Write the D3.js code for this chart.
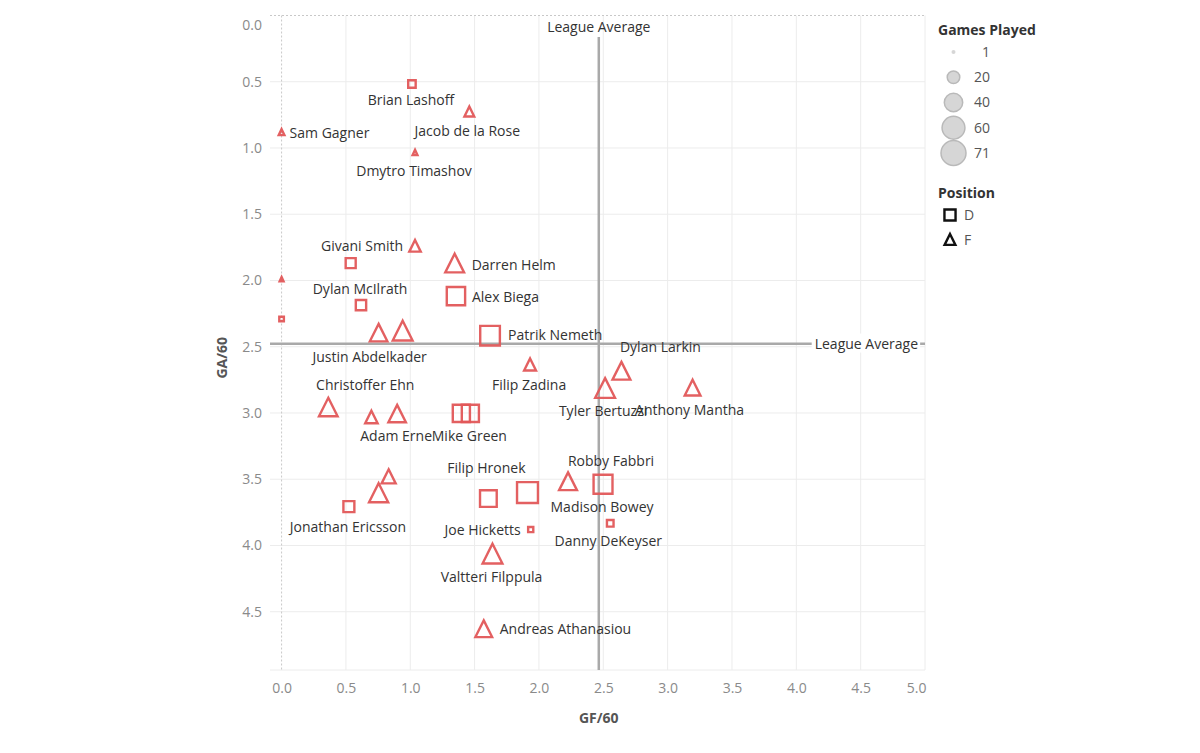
<!DOCTYPE html>
<html>
<head>
<meta charset="utf-8">
<script src="https://cdn.jsdelivr.net/npm/d3@7"></script>
<style>
  body { margin: 0; background: #fff; }
  svg text { font-family: "Open Sans", Lato, sans-serif; }
</style>
</head>
<body>
<svg id="chart" width="1200" height="753"></svg>
<script>
// ---------------- DATA ----------------
const players = [
  "Brian Lashoff", "Jacob de la Rose", "Sam Gagner", "Dmytro Timashov", "Givani Smith",
  "", "Darren Helm", "", "Dylan McIlrath", "Alex Biega",
  "", "Justin Abdelkader", "", "Patrik Nemeth", "Filip Zadina",
  "Dylan Larkin", "Tyler Bertuzzi", "Anthony Mantha", "Christoffer Ehn", "",
  "Adam Erne", "", "Mike Green", "Filip Hronek", "",
  "Robby Fabbri", "Madison Bowey", "Danny DeKeyser", "Joe Hicketts", "Jonathan Ericsson",
  "", "", "Valtteri Filppula", "Andreas Athanasiou"
];
const position = [
  "D", "F", "F", "F", "F",
  "D", "F", "F", "D", "D",
  "D", "F", "F", "D", "F",
  "F", "F", "F", "F", "F",
  "F", "D", "D", "D", "D",
  "F", "D", "D", "D", "D",
  "F", "F", "F", "F"
];
const gf60 = [
  1.013, 1.459, 0.0, 1.037, 1.037,
  0.537, 1.345, 0.0, 0.617, 1.355,
  0.0, 0.754, 0.941, 1.620, 1.931,
  2.641, 2.514, 3.194, 0.363, 0.698,
  0.898, 1.397, 1.467, 1.607, 1.911,
  2.226, 2.498, 2.554, 1.936, 0.523,
  0.832, 0.754, 1.639, 1.571
];
const ga60 = [
  0.517, 0.729, 0.885, 1.038, 1.743,
  1.869, 1.873, 1.995, 2.186, 2.118,
  2.291, 2.398, 2.383, 2.417, 2.639,
  2.686, 2.816, 2.813, 2.960, 3.035,
  3.009, 3.003, 3.003, 3.646, 3.601,
  3.520, 3.538, 3.833, 3.880, 3.707,
  3.483, 3.607, 4.066, 4.633
];
const gamesPlayed = [
  12, 24, 12, 10, 30,
  19, 65, 8, 20, 53,
  6, 58, 71, 60, 32,
  60, 71, 49, 64, 34,
  58, 47, 47, 45, 67,
  60, 56, 10, 7, 22,
  41, 67, 71, 54
];
const xTicks = [0, 0.5, 1, 1.5, 2, 2.5, 3, 3.5, 4, 4.5, 5];
const yTicks = [0, 0.5, 1, 1.5, 2, 2.5, 3, 3.5, 4, 4.5];
const leagueAvgGF = 2.465;
const leagueAvgGA = 2.477;
const legendGames = [1, 20, 40, 60, 71];
const legendPositions = ["D", "F"];

// label placement (layout config): anchor, dx, dy relative to mark centre
const labelPlacement = {
  "Brian Lashoff": ["middle", -1, 16],
  "Jacob de la Rose": ["middle", -2, 19],
  "Sam Gagner": ["start", 8, 0],
  "Dmytro Timashov": ["middle", -1, 18],
  "Givani Smith": ["end", -12, 0],
  "Darren Helm": ["start", 17, 1],
  "Dylan McIlrath": ["middle", -1, -16],
  "Alex Biega": ["start", 16, 1],
  "Justin Abdelkader": ["middle", -9, 24],
  "Patrik Nemeth": ["start", 18, -1],
  "Filip Zadina": ["middle", -1, 20],
  "Dylan Larkin": ["middle", 39, -24],
  "Tyler Bertuzzi": ["middle", -2, 23],
  "Anthony Mantha": ["middle", -3, 22],
  "Christoffer Ehn": ["middle", 37, -23],
  "Adam Erne": ["middle", -1, 22],
  "Mike Green": ["middle", -1, 23],
  "Filip Hronek": ["middle", -2, -30],
  "Robby Fabbri": ["middle", 43, -21],
  "Madison Bowey": ["middle", -1, 23],
  "Danny DeKeyser": ["middle", -2, 18],
  "Joe Hicketts": ["end", -10, 1],
  "Jonathan Ericsson": ["middle", -1, 20],
  "Valtteri Filppula": ["middle", -1, 23],
  "Andreas Athanasiou": ["start", 16, 0]
};

// ---------------- CHART ----------------
const RED = "#e15759";
const FONT = "'Open Sans', Lato, sans-serif";
const svg = d3.select("#chart");
const plot = { left: 270, right: 925, top: 15.5, bottom: 670 };

const x = d3.scaleLinear().domain([-0.09, 5]).range([plot.left, plot.right]);
const y = d3.scaleLinear().domain([0, 4.94]).range([plot.top, plot.bottom]);
const shapeSize = d3.scaleSqrt().domain([0, 71]).range([0, 24]);
const circleSize = d3.scaleSqrt().domain([0, 71]).range([0, 26.5]);

const data = players.map((p, i) => ({
  name: p, pos: position[i], gf: gf60[i], ga: ga60[i], gp: gamesPlayed[i]
}));

// gridlines
const grid = svg.append("g");
grid.selectAll("line.vx").data(xTicks.filter(d => d !== 0)).join("line")
  .attr("x1", d => x(d)).attr("x2", d => x(d))
  .attr("y1", plot.top).attr("y2", plot.bottom)
  .attr("stroke", "#ececec").attr("stroke-width", 1);
grid.selectAll("line.hy").data(yTicks.filter(d => d !== 0)).join("line")
  .attr("x1", plot.left).attr("x2", plot.right)
  .attr("y1", d => y(d)).attr("y2", d => y(d))
  .attr("stroke", "#ececec").attr("stroke-width", 1);
grid.append("line").attr("x1", plot.left).attr("x2", plot.right)
  .attr("y1", plot.bottom).attr("y2", plot.bottom)
  .attr("stroke", "#ececec").attr("stroke-width", 1);
grid.append("line").attr("x1", x(0)).attr("x2", x(0))
  .attr("y1", plot.top).attr("y2", plot.bottom)
  .attr("stroke", "#c8c8c8").attr("stroke-width", 1).attr("stroke-dasharray", "2,2");
grid.append("line").attr("x1", plot.left).attr("x2", plot.right)
  .attr("y1", y(0)).attr("y2", y(0))
  .attr("stroke", "#c8c8c8").attr("stroke-width", 1).attr("stroke-dasharray", "2,2");

// axes
const xAxis = svg.append("g").attr("transform", `translate(0,${plot.bottom})`)
  .call(d3.axisBottom(x).tickValues(xTicks).tickFormat(d3.format(".1f")).tickSize(0).tickPadding(13));
xAxis.select(".domain").remove();
xAxis.selectAll("text").attr("font-size", 14).attr("fill", "#8a8a8a")
  .attr("font-family", FONT)
  .filter(d => d === 5).attr("text-anchor", "end").attr("dx", 1);

const yAxis = svg.append("g").attr("transform", `translate(${plot.left},0)`)
  .call(d3.axisLeft(y).tickValues(yTicks).tickFormat(d3.format(".1f")).tickSize(0).tickPadding(8));
yAxis.select(".domain").remove();
yAxis.selectAll("text").attr("font-size", 14).attr("fill", "#8a8a8a")
  .attr("font-family", FONT)
  .filter(d => d === 0).attr("y", 9.5);

// axis titles
svg.append("text").attr("x", x(leagueAvgGF)).attr("y", 723)
  .attr("text-anchor", "middle").attr("font-size", 14).attr("font-weight", "bold")
  .attr("fill", "#555").text("GF/60");
svg.append("text").attr("transform", `translate(227,${(plot.top + plot.bottom) / 2 + 15}) rotate(-90)`)
  .attr("text-anchor", "middle").attr("font-size", 14).attr("font-weight", "bold")
  .attr("fill", "#555").text("GA/60");

// league average lines
const ref = svg.append("g");
ref.append("line").attr("x1", x(leagueAvgGF)).attr("x2", x(leagueAvgGF))
  .attr("y1", 37).attr("y2", plot.bottom)
  .attr("stroke", "#a9a9a9").attr("stroke-width", 2.5);
ref.append("line").attr("x1", plot.left).attr("x2", plot.right)
  .attr("y1", y(leagueAvgGA)).attr("y2", y(leagueAvgGA))
  .attr("stroke", "#a9a9a9").attr("stroke-width", 2.5);
ref.append("text").attr("x", x(leagueAvgGF)).attr("y", 27).attr("dy", "0.35em")
  .attr("text-anchor", "middle").attr("font-size", 14).attr("fill", "#333")
  .text("League Average");
const hLab = ref.append("text").attr("x", 918).attr("y", y(leagueAvgGA)).attr("dy", "0.35em")
  .attr("text-anchor", "end").attr("font-size", 14).attr("fill", "#333")
  .text("League Average");
const bb = hLab.node().getBBox();
ref.insert("rect", "text:last-of-type")
  .attr("x", bb.x - 3).attr("y", bb.y).attr("width", bb.width + 5).attr("height", bb.height)
  .attr("fill", "#fff");
hLab.raise();

// shape paths
function squarePath(s) {
  const h = Math.max(s - 2.4, 1.5) / 2;
  return `M${-h},${-h}H${h}V${h}H${-h}Z`;
}
function trianglePath(s) {
  const w = Math.max(s - 4.2, 2) / 2;
  const hh = Math.max(0.97 * s - 3.6, 2);
  const top = -hh / 2 - 0.6, bot = hh / 2 - 0.6;
  return `M0,${top}L${w},${bot}L${-w},${bot}Z`;
}

// marks
const marks = svg.append("g");
marks.selectAll("path").data(data).join("path")
  .attr("transform", d => `translate(${x(d.gf)},${y(d.ga)})`)
  .attr("d", d => d.pos === "D" ? squarePath(shapeSize(d.gp)) : trianglePath(shapeSize(d.gp)))
  .attr("fill", "none").attr("stroke", RED).attr("stroke-width", 2.4)
  .attr("stroke-linejoin", "miter").attr("opacity", 0.95);

// labels
const labels = svg.append("g");
labels.selectAll("text").data(data.filter(d => d.name && labelPlacement[d.name])).join("text")
  .attr("x", d => x(d.gf) + labelPlacement[d.name][1])
  .attr("y", d => y(d.ga) + labelPlacement[d.name][2])
  .attr("dy", "0.35em")
  .attr("text-anchor", d => labelPlacement[d.name][0])
  .attr("font-size", 14).attr("fill", "#333")
  .text(d => d.name);

// legend: games played
const lg = svg.append("g");
lg.append("text").attr("x", 938).attr("y", 30).attr("dy", "0.35em")
  .attr("font-size", 14).attr("font-weight", "bold").attr("fill", "#333").text("Games Played");
const rowY = d3.scalePoint().domain(legendGames).range([52, 153]);
lg.selectAll("circle").data(legendGames).join("circle")
  .attr("cx", 953.5).attr("cy", d => rowY(d))
  .attr("r", d => Math.max(circleSize(d) / 2 - 0.75, 2))
  .attr("fill", "#d6d6d6").attr("stroke", d => d === 1 ? "none" : "#b9b9b9").attr("stroke-width", 1.5);
lg.selectAll("text.v").data(legendGames).join("text")
  .attr("x", 990).attr("y", d => rowY(d)).attr("dy", "0.35em")
  .attr("text-anchor", "end").attr("font-size", 14).attr("fill", "#555")
  .text(d => d);

// legend: position
const lp = svg.append("g");
lp.append("text").attr("x", 938).attr("y", 193).attr("dy", "0.35em")
  .attr("font-size", 14).attr("font-weight", "bold").attr("fill", "#333").text("Position");
const posY = d3.scalePoint().domain(legendPositions).range([215, 240]);
lp.selectAll("path").data(legendPositions).join("path")
  .attr("transform", d => `translate(950,${posY(d)})`)
  .attr("d", d => d === "D" ? squarePath(13.5) : trianglePath(15))
  .attr("fill", "none").attr("stroke", "#111").attr("stroke-width", 2.4);
lp.selectAll("text.v").data(legendPositions).join("text")
  .attr("x", 964).attr("y", d => posY(d)).attr("dy", "0.35em")
  .attr("font-size", 14).attr("fill", "#555").text(d => d);
</script>
</body>
</html>
